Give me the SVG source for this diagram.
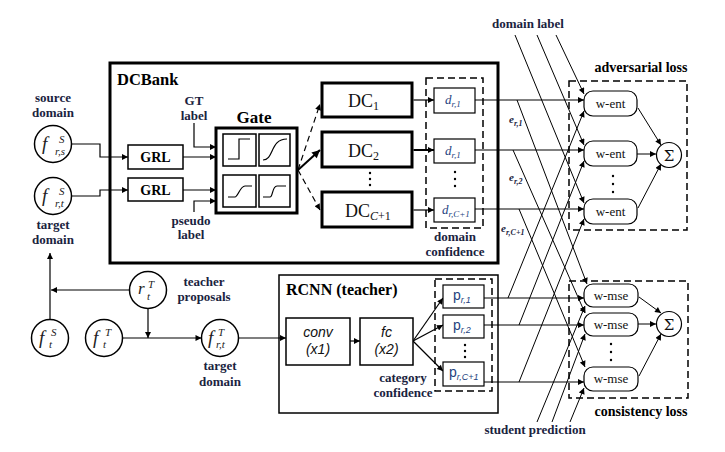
<svg xmlns="http://www.w3.org/2000/svg" width="725" height="452" viewBox="0 0 725 452" font-family="Liberation Serif">
<style>
.lbl{font-weight:bold;font-size:13px;fill:#1a2340;text-anchor:middle}
.ttl{font-weight:bold;fill:#000}
.m{font-style:italic;fill:#222}
.dc{font-size:18px;fill:#111}
.box{fill:#fff;stroke:#000;stroke-width:1.5}
.thick{fill:#fff;stroke:#000;stroke-width:3}
.thin{fill:#fff;stroke:#000;stroke-width:1.2}
.dash{fill:none;stroke:#000;stroke-width:1.5;stroke-dasharray:7,4}
.ln{fill:none;stroke:#000;stroke-width:1.2}
.ln1{fill:none;stroke:#000;stroke-width:1}
.blue{font-style:italic;fill:#24427e}
.ps{fill:#24427e}
.w{font-size:13px;fill:#111;text-anchor:middle}
.e{font-weight:bold;font-style:italic;fill:#1a2340}
.cv{font-style:italic;font-size:14px;fill:#111;text-anchor:middle}
</style>
<defs>
<marker id="ah" viewBox="0 0 10 10" refX="10" refY="5" markerWidth="7" markerHeight="6" orient="auto" markerUnits="userSpaceOnUse"><path d="M0,0 L10,5 L0,10 z" fill="#000"/></marker>
<marker id="ahb" viewBox="0 0 10 10" refX="10" refY="5" markerWidth="9" markerHeight="8" orient="auto" markerUnits="userSpaceOnUse"><path d="M0,0 L10,5 L0,10 z" fill="#000"/></marker>
</defs>

<g id="dcbank">
<rect x="110" y="63" width="388" height="200" fill="none" stroke="#000" stroke-width="3"/>
<text class="ttl" x="117" y="85" font-size="16.5">DCBank</text>
</g>
<g id="rcnn">
<rect x="279" y="275" width="219" height="138" fill="none" stroke="#000" stroke-width="1.5"/>
<text class="ttl" x="286" y="295" font-size="16">RCNN (teacher)</text>
</g>
<g id="domain-confidence">
<rect class="dash" x="426" y="78" width="57" height="150"/>
<text class="lbl" x="455" y="241">domain</text>
<text class="lbl" x="455" y="256">confidence</text>
</g>
<g id="category-confidence">
<rect class="dash" x="435" y="279" width="57" height="112"/>
<text class="lbl" x="403" y="382">category</text>
<text class="lbl" x="403" y="397">confidence</text>
</g>
<g id="adversarial-loss">
<rect class="dash" x="569" y="81" width="118" height="149"/>
<text class="ttl" x="641" y="72" font-size="14" text-anchor="middle">adversarial loss</text>
</g>
<g id="consistency-loss">
<rect class="dash" x="569" y="281" width="119" height="117"/>
<text class="ttl" x="641" y="416" font-size="14" text-anchor="middle">consistency loss</text>
</g>

<g id="connectors">
<path class="ln" d="M71.5,144 H100 V157 H128" marker-end="url(#ah)"/>
<path class="ln" d="M71.5,196 H100 V190 H128" marker-end="url(#ah)"/>
<path class="ln" d="M183,157 H216" marker-end="url(#ah)"/>
<path class="ln" d="M183,190 H216" marker-end="url(#ah)"/>
<path class="ln" d="M194,123 V147 H216" marker-end="url(#ah)"/>
<path class="ln" d="M194,212 V201 H216" marker-end="url(#ah)"/>
<path class="ln" d="M298,170 L320,104" stroke-dasharray="6,4" marker-end="url(#ah)"/>
<path d="M298,170 L320,150" fill="none" stroke="#000" stroke-width="2" marker-end="url(#ahb)"/>
<path class="ln" d="M298,170 L320,210" stroke-dasharray="6,4" marker-end="url(#ah)"/>
<path class="ln" d="M413.5,100 H434" marker-end="url(#ah)"/>
<path d="M413.5,150 H434" fill="none" stroke="#000" stroke-width="2" marker-end="url(#ah)"/>
<path class="ln" d="M413.5,210 H434" marker-end="url(#ah)"/>
<path class="ln" d="M475,100 H584" marker-end="url(#ah)"/>
<path class="ln" d="M475,150 H584" marker-end="url(#ah)"/>
<path class="ln" d="M475,209 H584" marker-end="url(#ah)"/>
<path class="ln1" d="M515,35 L584,203" marker-end="url(#ah)"/>
<path class="ln1" d="M537,35 L584,145" marker-end="url(#ah)"/>
<path class="ln1" d="M556,35 L584,94" marker-end="url(#ah)"/>
<path class="ln1" d="M517,100 L587,284" marker-end="url(#ah)"/>
<path class="ln1" d="M513,150 L585,313" marker-end="url(#ah)"/>
<path class="ln1" d="M519,209 L585,367" marker-end="url(#ah)"/>
<path class="ln1" d="M508,298 L584,111" marker-end="url(#ah)"/>
<path class="ln1" d="M519,325 L584,161" marker-end="url(#ah)"/>
<path class="ln1" d="M519,382 L584,219" marker-end="url(#ah)"/>
<path class="ln1" d="M537,422 L585,306" marker-end="url(#ah)"/>
<path class="ln1" d="M552,422 L585,334" marker-end="url(#ah)"/>
<path class="ln1" d="M570,422 L584,388" marker-end="url(#ah)"/>
<path class="ln1" d="M638,108 L661,145" marker-end="url(#ah)"/>
<path class="ln1" d="M637,154 H656" marker-end="url(#ah)"/>
<path class="ln1" d="M638,208 L661,164" marker-end="url(#ah)"/>
<path class="ln" d="M484,298 H584" marker-end="url(#ah)"/>
<path class="ln" d="M484,325 H584" marker-end="url(#ah)"/>
<path class="ln" d="M484,382 H584" marker-end="url(#ah)"/>
<path class="ln1" d="M639,297 L661,313" marker-end="url(#ah)"/>
<path class="ln1" d="M638,324 H656" marker-end="url(#ah)"/>
<path class="ln1" d="M639,376 L661,334" marker-end="url(#ah)"/>
<path class="ln" d="M413,341 L443,298" marker-end="url(#ah)"/>
<path class="ln" d="M413,341 L443,325" marker-end="url(#ah)"/>
<path class="ln" d="M413,341 L443,371" marker-end="url(#ah)"/>
<path class="ln" d="M350,341 H360" marker-end="url(#ah)"/>
<path class="ln" d="M238.5,338 H286" marker-end="url(#ah)"/>
<path class="ln" d="M122.5,338 H201.5" marker-end="url(#ah)"/>
<path class="ln" d="M148,308.5 V338" marker-end="url(#ah)"/>
<path class="ln" d="M129.5,290 H51" marker-end="url(#ah)"/>
<path class="ln" d="M50,319.5 V253" marker-end="url(#ah)"/>
</g>

<g id="f-rs-S">
<circle class="box" cx="53" cy="144" r="18.5"/>
<text class="m" x="42" y="150" font-size="19">f</text>
<text class="m" x="59" y="143" font-size="11">S</text>
<text class="m" x="55" y="155" font-size="11">r,s</text>
<text class="lbl" x="53" y="102">source</text>
<text class="lbl" x="53" y="117">domain</text>
</g>
<g id="f-rt-S">
<circle class="box" cx="53" cy="196" r="18.5"/>
<text class="m" x="42" y="202" font-size="19">f</text>
<text class="m" x="59" y="195" font-size="11">S</text>
<text class="m" x="55" y="207" font-size="11">r,t</text>
<text class="lbl" x="53" y="229">target</text>
<text class="lbl" x="53" y="244">domain</text>
</g>
<g id="grl1"><rect class="box" x="128" y="145" width="55" height="24"/><text class="ttl" x="155.5" y="162" font-size="14" text-anchor="middle">GRL</text></g>
<g id="grl2"><rect class="box" x="128" y="178" width="55" height="23"/><text class="ttl" x="155.5" y="194.5" font-size="14" text-anchor="middle">GRL</text></g>
<g id="gt-label"><text class="lbl" x="194" y="105">GT</text><text class="lbl" x="194" y="120">label</text></g>
<g id="pseudo-label"><text class="lbl" x="191" y="225">pseudo</text><text class="lbl" x="191" y="239">label</text></g>

<g id="gate">
<text class="ttl" x="254" y="123" font-size="17" text-anchor="middle">Gate</text>
<rect class="thick" x="216" y="128" width="81" height="85"/>
<rect class="box" x="223" y="134" width="33" height="32"/>
<rect class="box" x="259" y="134" width="31" height="32"/>
<rect class="box" x="223" y="175" width="33" height="32"/>
<rect class="box" x="259" y="175" width="31" height="32"/>
<path class="ln" stroke-width="1.6" d="M228,159 H239 V139 H250"/>
<path class="ln" stroke-width="1.6" d="M263,160 C274,160 270,139 287,139"/>
<path class="ln" stroke-width="1.6" d="M228,197 H235 C238,197 240,186 245,186 H252"/>
<path class="ln" stroke-width="1.6" d="M263,197 H270 C273,197 272,186 277,186 H286"/>
</g>

<g id="dc1"><rect class="thick" x="322" y="83" width="90" height="34"/><text class="dc" x="348" y="107">DC<tspan font-size="12" dy="3">1</tspan></text></g>
<g id="dc2"><rect class="thick" x="322" y="132" width="90" height="35"/><text class="dc" x="348" y="157">DC<tspan font-size="12" dy="3">2</tspan></text></g>
<g id="dc-dots"><circle cx="370" cy="173" r="1.2"/><circle cx="370" cy="179" r="1.2"/><circle cx="370" cy="185" r="1.2"/></g>
<g id="dcC1"><rect class="thick" x="322" y="192" width="90" height="35"/><text class="dc" x="345" y="217">DC<tspan font-size="12" dy="3"><tspan font-style="italic">C</tspan>+1</tspan></text></g>

<g id="d1"><rect class="thin" x="434" y="88" width="41" height="25"/><text class="blue" x="445" y="104" font-size="13">d<tspan font-size="9" dy="3">r,1</tspan></text></g>
<g id="d2"><rect class="thin" x="434" y="139" width="41" height="24"/><text class="blue" x="445" y="155" font-size="13">d<tspan font-size="9" dy="3">r,1</tspan></text></g>
<g id="d-dots"><circle cx="455" cy="172" r="1.2"/><circle cx="455" cy="179" r="1.2"/><circle cx="455" cy="186" r="1.2"/></g>
<g id="d3"><rect class="thin" x="434" y="198" width="41" height="24"/><text class="blue" x="442" y="214" font-size="13">d<tspan font-size="9" dy="3">r,C+1</tspan></text></g>

<g id="domain-label"><text class="lbl" x="528" y="28">domain label</text></g>
<g id="e-labels">
<text class="e" x="509" y="123" font-size="11">e<tspan font-size="8" dy="3">r,1</tspan></text>
<text class="e" x="509" y="181" font-size="11">e<tspan font-size="8" dy="3">r,2</tspan></text>
<text class="e" x="501" y="232" font-size="11">e<tspan font-size="8" dy="3">r,C+1</tspan></text>
</g>

<g id="went1"><rect class="thin" x="584" y="91" width="53" height="25" rx="9"/><text class="w" x="610.5" y="108">w-ent</text></g>
<g id="went2"><rect class="thin" x="584" y="141" width="53" height="25" rx="9"/><text class="w" x="610.5" y="158">w-ent</text></g>
<g id="went-dots"><circle cx="613" cy="176" r="1.2"/><circle cx="613" cy="184" r="1.2"/><circle cx="613" cy="192" r="1.2"/></g>
<g id="went3"><rect class="thin" x="584" y="199" width="53" height="25" rx="9"/><text class="w" x="610.5" y="216">w-ent</text></g>
<g id="sum1"><circle class="thin" cx="669" cy="155" r="12.5"/><text x="669" y="160.5" font-family="DejaVu Serif" font-size="15" text-anchor="middle" fill="#111">Σ</text></g>

<g id="f-t-S"><circle class="box" cx="50" cy="338" r="18.5"/><text class="m" x="39" y="344" font-size="19">f</text><text class="m" x="51" y="336" font-size="11">S</text><text class="m" x="49" y="348" font-size="11">t</text></g>
<g id="f-t-T"><circle class="box" cx="104" cy="338" r="18.5"/><text class="m" x="93" y="344" font-size="19">f</text><text class="m" x="105" y="336" font-size="11">T</text><text class="m" x="103" y="348" font-size="11">t</text></g>
<g id="r-t-T"><circle class="box" cx="148" cy="290" r="18.5"/><text class="m" x="138" y="294" font-size="17">r</text><text class="m" x="148" y="288" font-size="11">T</text><text class="m" x="147" y="300" font-size="11">t</text>
<text class="lbl" x="204" y="286">teacher</text><text class="lbl" x="204" y="301">proposals</text></g>
<g id="f-rt-T"><circle class="box" cx="220" cy="338" r="18.5"/><text class="m" x="208" y="344" font-size="19">f</text><text class="m" x="218" y="336" font-size="11">T</text><text class="m" x="216" y="348" font-size="11">r,t</text>
<text class="lbl" x="220" y="370">target</text><text class="lbl" x="220" y="386">domain</text></g>

<g id="conv" font-family="Liberation Sans"><rect class="box" x="286" y="318" width="64" height="47"/><text class="cv" x="318" y="337">conv</text><text class="cv" x="318" y="354">(x1)</text></g>
<g id="fc" font-family="Liberation Sans"><rect class="box" x="360" y="318" width="53" height="47"/><text class="cv" x="386.5" y="337">fc</text><text class="cv" x="386.5" y="354">(x2)</text></g>

<g id="p1" font-family="Liberation Sans"><rect class="thin" x="443" y="285" width="41" height="23"/><text class="ps" x="453" y="300" font-size="14">p<tspan font-size="9" font-style="italic" dy="3">r,1</tspan></text></g>
<g id="p2" font-family="Liberation Sans"><rect class="thin" x="443" y="315" width="41" height="23"/><text class="ps" x="453" y="330" font-size="14">p<tspan font-size="9" font-style="italic" dy="3">r,2</tspan></text></g>
<g id="p-dots"><circle cx="465" cy="345" r="1.2"/><circle cx="465" cy="351" r="1.2"/><circle cx="465" cy="357" r="1.2"/></g>
<g id="p3" font-family="Liberation Sans"><rect class="thin" x="443" y="362" width="41" height="24"/><text class="ps" x="449" y="377" font-size="14">p<tspan font-size="9" font-style="italic" dy="3">r,C+1</tspan></text></g>

<g id="wmse1"><rect class="thin" x="584" y="284" width="54" height="23" rx="9"/><text class="w" x="611" y="300">w-mse</text></g>
<g id="wmse2"><rect class="thin" x="584" y="313" width="54" height="23" rx="9"/><text class="w" x="611" y="329">w-mse</text></g>
<g id="wmse-dots"><circle cx="611" cy="344" r="1.2"/><circle cx="611" cy="352" r="1.2"/><circle cx="611" cy="360" r="1.2"/></g>
<g id="wmse3"><rect class="thin" x="584" y="367" width="54" height="24" rx="9"/><text class="w" x="611" y="383">w-mse</text></g>
<g id="sum2"><circle class="thin" cx="669" cy="324" r="12.5"/><text x="669" y="329.5" font-family="DejaVu Serif" font-size="15" text-anchor="middle" fill="#111">Σ</text></g>

<g id="student-prediction"><text class="lbl" x="535" y="434">student prediction</text></g>
</svg>
